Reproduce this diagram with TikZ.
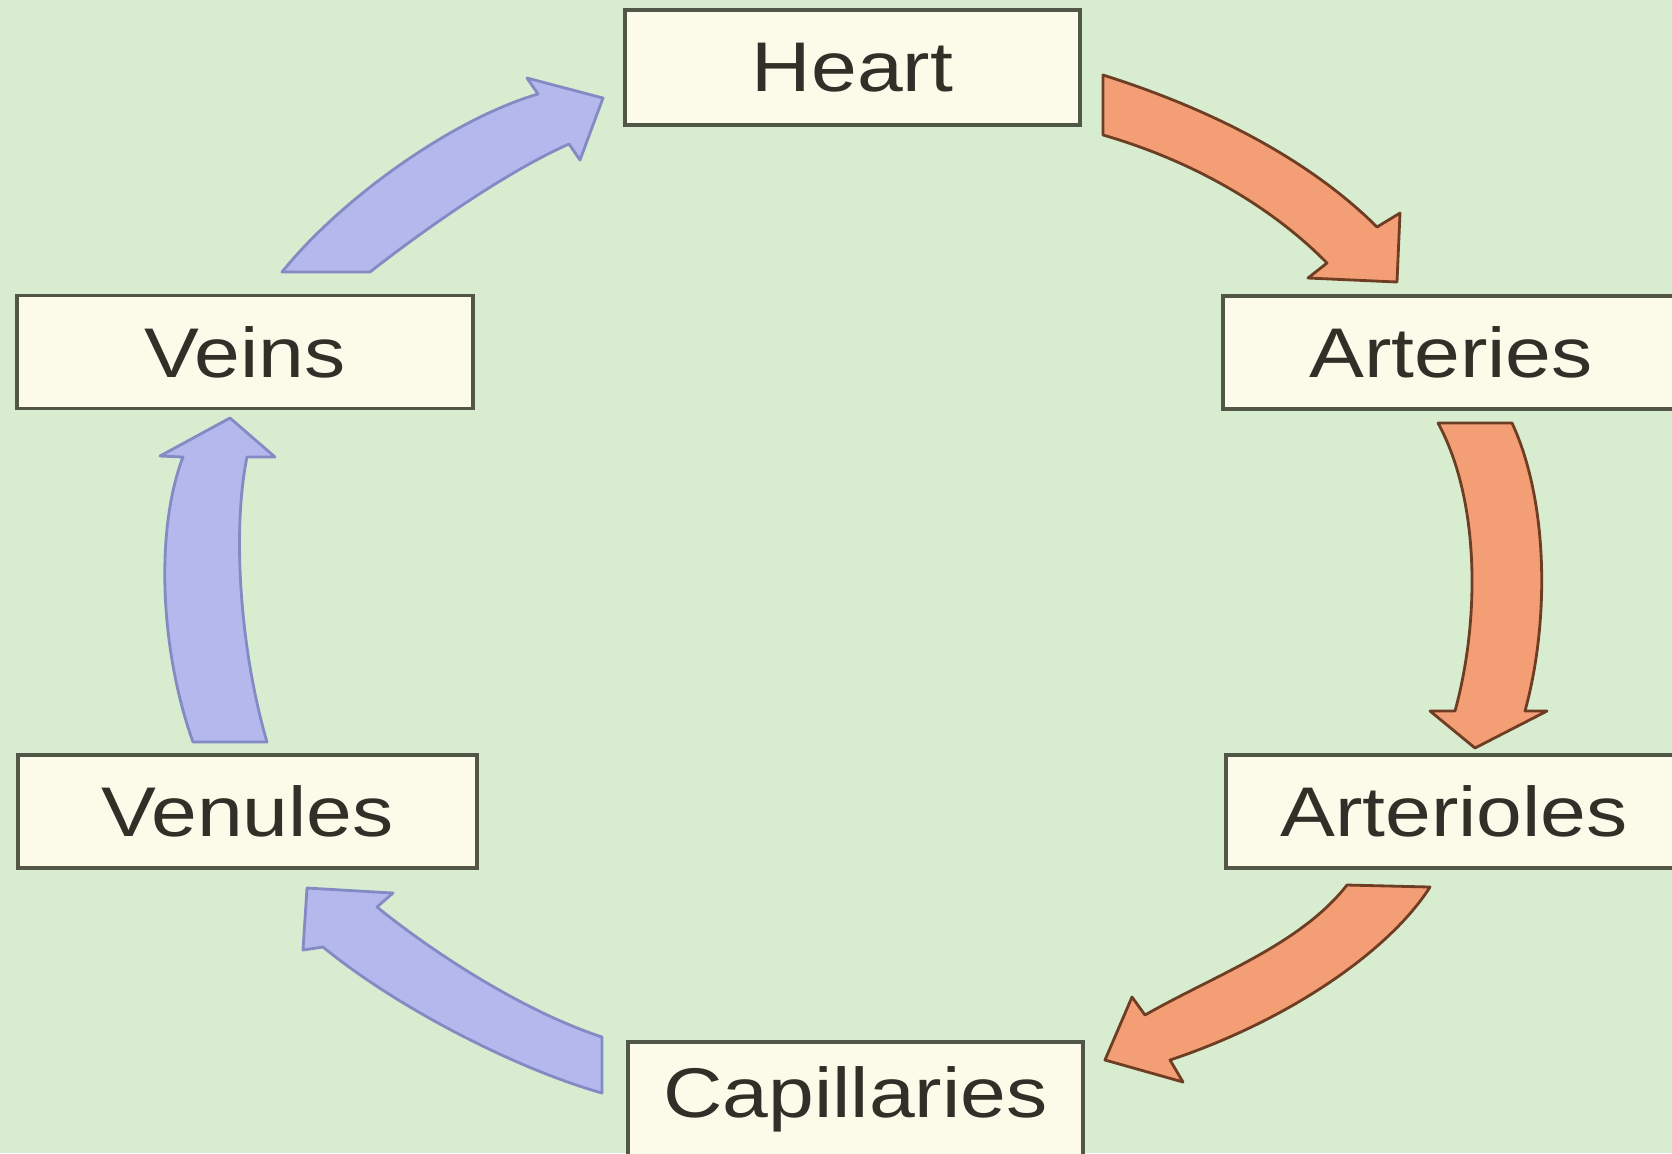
\documentclass[tikz,border=0pt]{standalone}
\usepackage{fontspec}
\usepackage{graphicx}
\setmainfont{Liberation Sans}
\definecolor{bgcol}{RGB}{216,236,208}
\definecolor{boxfill}{RGB}{252,251,234}
\definecolor{boxline}{RGB}{82,86,70}
\definecolor{txtcol}{RGB}{48,48,40}
\definecolor{orfill}{RGB}{244,158,118}
\definecolor{orline}{RGB}{110,62,36}
\definecolor{blfill}{RGB}{180,184,236}
\definecolor{blline}{RGB}{132,138,196}
\newcommand{\stretchtxt}[1]{\scalebox{1.17}[1]{#1}}
\tikzset{
  organ/.style={draw=boxline, fill=boxfill, line width=1.1pt, rectangle,
    minimum width=4.55cm, minimum height=1.13cm, inner sep=0pt,
    text=txtcol, font=\fontsize{20}{24}\selectfont},
  redflow/.style={fill=orfill, draw=orline, line width=0.8pt, line join=round},
  blueflow/.style={fill=blfill, draw=blline, line width=0.8pt, line join=round}
}
\begin{document}
\begin{tikzpicture}[x=0.01cm, y=-0.01cm]
\fill[bgcol] (0,0) rectangle (1672,1153);
\useasboundingbox (0,0) rectangle (1672,1153);

\node[organ, minimum height=1.15cm] (heart) at (852.5,67.5) {\stretchtxt{Heart}};
\node[organ] (veins) at (245,352) {\stretchtxt{Veins}};
\node[organ] (arteries) at (1451,352.5) {\stretchtxt{Arteries}};
\node[organ] (arterioles) at (1454,811.5) {\stretchtxt{Arterioles}};
\node[organ, minimum width=4.59cm] (venules) at (247.5,811.5) {\stretchtxt{Venules}};
\node[organ, minimum height=1.15cm] (capillaries) at (855.5,1099.5) {\stretchtxt{Capillaries}};

% Heart -> Arteries
\draw[redflow] (1103,75) .. controls (1230,115) and (1320,170) .. (1377,227)
  -- (1400,213) -- (1397,282) -- (1308,278) -- (1327,263)
  .. controls (1270,205) and (1190,160) .. (1103,135) -- cycle;
% Arteries -> Arterioles
\draw[redflow] (1438,423) -- (1512,423)
  .. controls (1548,500) and (1550,620) .. (1525,711)
  -- (1547,711) -- (1475,748) -- (1430,711) -- (1455,711)
  .. controls (1480,620) and (1480,500) .. (1438,423) -- cycle;
% Arterioles -> Capillaries
\draw[redflow] (1347,885) -- (1430,887)
  .. controls (1390,950) and (1290,1020) .. (1170,1060)
  -- (1183,1082) -- (1105,1060) -- (1132,997) -- (1145,1015)
  .. controls (1215,975) and (1300,945) .. (1347,885) -- cycle;
% Capillaries -> Venules
\draw[blueflow] (602,1037) -- (602,1093)
  .. controls (520,1070) and (400,1010) .. (323,947)
  -- (303,950) -- (307,888) -- (393,893) -- (377,907)
  .. controls (430,950) and (520,1010) .. (602,1037) -- cycle;
% Venules -> Veins
\draw[blueflow] (193,742)
  .. controls (160,650) and (155,530) .. (183,457)
  -- (160,456) -- (230,418) -- (275,457) -- (247,457)
  .. controls (232,530) and (240,650) .. (267,742) -- cycle;
% Veins -> Heart
\draw[blueflow] (282,272)
  .. controls (340,200) and (450,120) .. (538,94)
  -- (527,78) -- (603,98) -- (580,160) -- (569,144)
  .. controls (510,170) and (430,225) .. (370,272) -- cycle;
\end{tikzpicture}
\end{document}
